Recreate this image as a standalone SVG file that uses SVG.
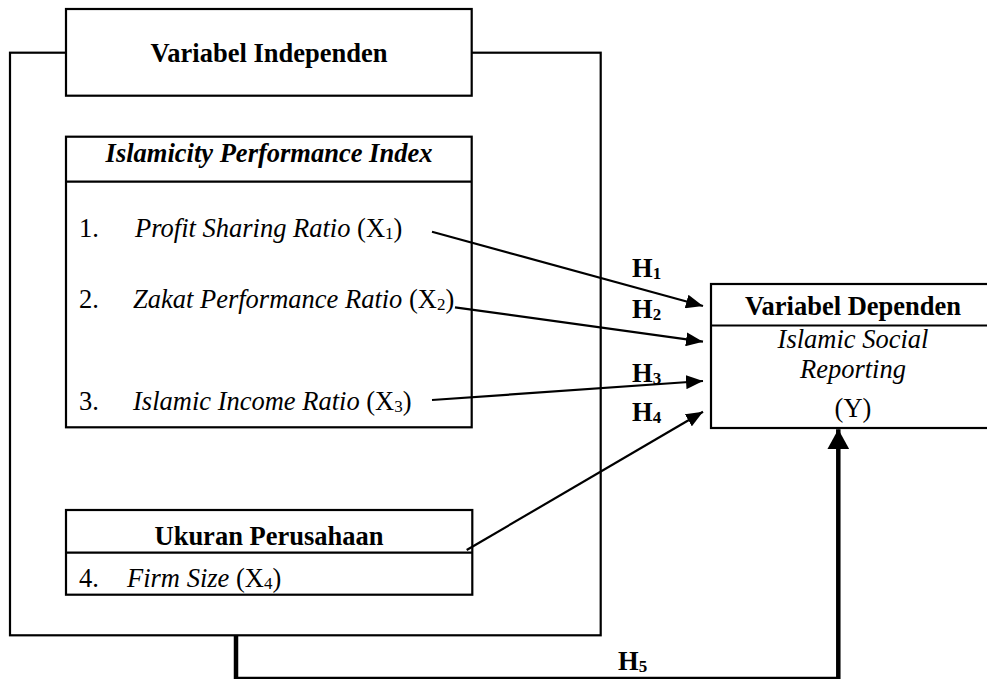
<svg xmlns="http://www.w3.org/2000/svg" width="987" height="681" viewBox="0 0 987 681">
<style>
.box{fill:#fff;stroke:#000;stroke-width:2.2}
.div{stroke:#000;stroke-width:2.2}
.t{font-family:"Liberation Serif","Times New Roman",serif;font-size:26.5px;fill:#000}
.b{font-weight:bold}
.i{font-style:italic}
.c{text-anchor:middle}
.sub{font-size:17px}
.con{fill:none;stroke:#000;stroke-width:2.2}
</style>
<defs>
<marker id="arr" markerUnits="userSpaceOnUse" markerWidth="18" markerHeight="14" refX="17" refY="7" orient="auto">
<path d="M0,0 L17,7 L0,14 z" fill="#000"/>
</marker>
<marker id="arrBig" markerUnits="userSpaceOnUse" markerWidth="20" markerHeight="22" refX="20" refY="11" orient="auto">
<path d="M0,0 L20,11 L0,22 z" fill="#000"/>
</marker>
</defs>
<rect width="987" height="681" fill="#fff"/>

<g id="outer">
<rect class="box" x="10" y="52.7" width="590.7" height="582.6"/>
</g>

<g id="variabel-independen">
<rect class="box" x="66" y="9" width="405.7" height="86.7"/>
<text class="t b c" x="269" y="62">Variabel Independen</text>
</g>

<g id="islamicity">
<rect class="box" x="66" y="136.7" width="405.7" height="290.6"/>
<line class="div" x1="66" y1="181.7" x2="471.7" y2="181.7" stroke-width="3"/>
<text class="t b i c" x="269" y="161.7">Islamicity Performance Index</text>
<text class="t" x="79" y="236.7">1.</text>
<text class="t" x="135" y="236.7"><tspan class="i">Profit Sharing Ratio</tspan> (X<tspan class="sub" dy="2">1</tspan><tspan dy="-2">)</tspan></text>
<text class="t" x="79" y="308.3">2.</text>
<text class="t" x="133" y="308.3"><tspan class="i">Zakat Performance Ratio</tspan> (X<tspan class="sub" dy="2">2</tspan><tspan dy="-2">)</tspan></text>
<text class="t" x="79" y="410">3.</text>
<text class="t" x="133" y="410"><tspan class="i">Islamic Income Ratio</tspan> (X<tspan class="sub" dy="2">3</tspan><tspan dy="-2">)</tspan></text>
</g>

<g id="ukuran-perusahaan">
<rect class="box" x="66" y="510" width="406.3" height="84.7"/>
<line class="div" x1="66" y1="552.7" x2="472.3" y2="552.7"/>
<text class="t b c" x="269" y="545">Ukuran Perusahaan</text>
<text class="t" x="79" y="587">4.</text>
<text class="t" x="127" y="587"><tspan class="i">Firm Size</tspan> (X<tspan class="sub" dy="2">4</tspan><tspan dy="-2">)</tspan></text>
</g>

<g id="variabel-dependen">
<rect class="box" x="711" y="284" width="290" height="144"/>
<line class="div" x1="711" y1="325.5" x2="1001" y2="325.5"/>
<text class="t b c" x="853" y="315">Variabel Dependen</text>
<text class="t i c" x="853" y="348">Islamic Social</text>
<text class="t i c" x="853" y="378">Reporting</text>
<text class="t c" x="853" y="416.7">(Y)</text>
</g>

<g id="connectors">
<line class="con" x1="432" y1="231.7" x2="703" y2="306" marker-end="url(#arr)"/>
<line class="con" x1="455" y1="307.3" x2="703" y2="341.7" marker-end="url(#arr)"/>
<line class="con" x1="432" y1="400" x2="703" y2="381" marker-end="url(#arr)"/>
<line class="con" x1="466.7" y1="550" x2="703" y2="411.7" marker-end="url(#arr)"/>
<line x1="236" y1="635" x2="236" y2="679" stroke="#000" stroke-width="4.5"/>
<line x1="234" y1="677.8" x2="840" y2="677.8" stroke="#000" stroke-width="2.2"/>
<line x1="838.3" y1="679" x2="838.3" y2="429.3" stroke="#000" stroke-width="4.5" marker-end="url(#arrBig)"/>
</g>

<g id="labels">
<text class="t b" x="632" y="277">H<tspan class="sub" dy="2">1</tspan></text>
<text class="t b" x="632" y="318">H<tspan class="sub" dy="2">2</tspan></text>
<text class="t b" x="632" y="381.7">H<tspan class="sub" dy="2">3</tspan></text>
<text class="t b" x="632" y="420.7">H<tspan class="sub" dy="2">4</tspan></text>
<text class="t b" x="618" y="670">H<tspan class="sub" dy="2">5</tspan></text>
</g>
</svg>
